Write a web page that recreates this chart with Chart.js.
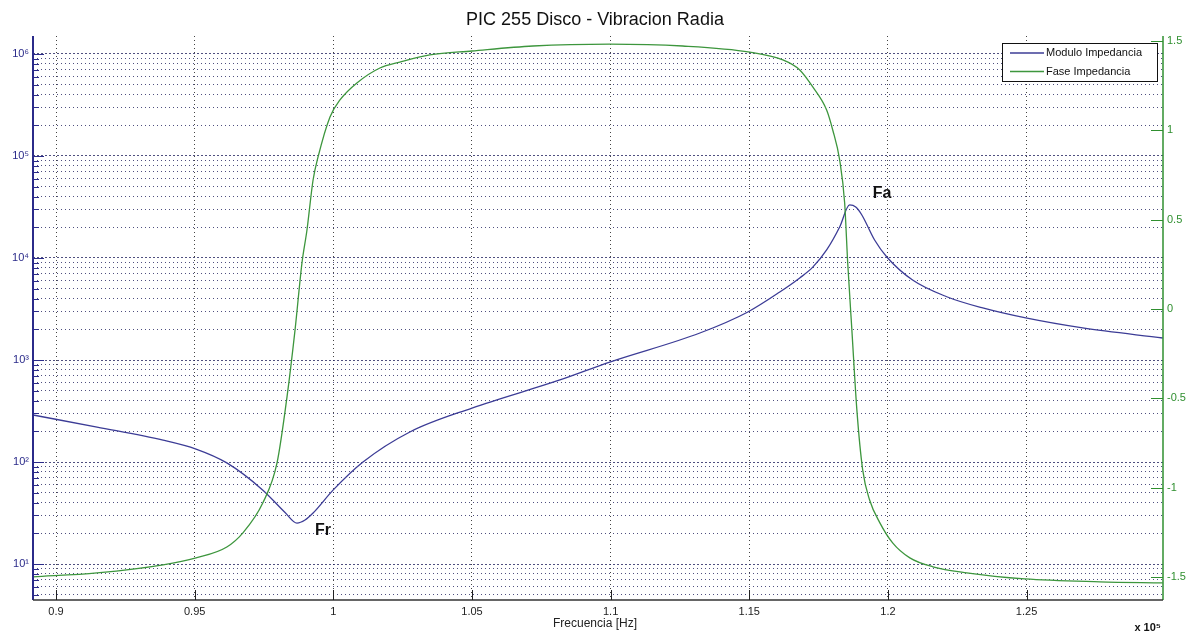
<!DOCTYPE html>
<html>
<head>
<meta charset="utf-8">
<script src="https://cdn.jsdelivr.net/npm/chart.js@4.4.1/dist/chart.umd.min.js"></script>
<style>
  html, body { margin: 0; background: #fff; }
  canvas { display: block; }
</style>
</head>
<body>
<canvas id="chart" width="1190" height="636"></canvas>
<script>
// frecuencia en unidades de 10^5 Hz
const freqModulo = [0.8917, 0.9148, 0.9386, 0.9505, 0.9616, 0.9746, 0.9826, 0.9869, 0.9898, 0.9927,
  0.9999, 1.0107, 1.0276, 1.05, 1.0817, 1.0997, 1.1322, 1.1495, 1.1610, 1.1682, 1.1729, 1.1779,
  1.1826, 1.1862, 1.1884, 1.1906, 1.1952, 1.1996, 1.2089, 1.2212, 1.2342, 1.2497, 1.2702, 1.2991];
const modulo = [289, 220, 164, 134, 98, 53, 32, 25.2, 27, 31.6,
  53, 100, 197, 338, 637, 955, 1840, 2958, 4640, 6370, 8130, 12000,
  20140, 33100, 31600, 26400, 15000, 10230, 6080, 4170, 3235, 2582, 2061, 1643];

const freqFase = [0.8917, 0.9148, 0.9386, 0.9505, 0.9616, 0.9674, 0.9746, 0.9797, 0.9833, 0.9862,
  0.9887, 0.9905, 0.9927, 0.9945, 0.9988, 1.0024, 1.0085, 1.0168, 1.0240, 1.0348, 1.05, 1.0720,
  1.0997, 1.1260, 1.1502, 1.1621, 1.1682, 1.1729, 1.1779, 1.1801, 1.1826, 1.1844, 1.1855, 1.1870,
  1.1888, 1.1909, 1.1934, 1.1971, 1.2017, 1.2079, 1.2162, 1.2284, 1.2493, 1.2764, 1.2991];
const fase = [-1.50, -1.477, -1.432, -1.393, -1.332, -1.253, -1.085, -0.862, -0.492, -0.117,
  0.258, 0.442, 0.722, 0.851, 1.075, 1.170, 1.265, 1.349, 1.382, 1.422, 1.444, 1.472,
  1.483, 1.472, 1.438, 1.394, 1.338, 1.243, 1.114, 1.002, 0.834, 0.593, 0.258, -0.117,
  -0.565, -0.901, -1.069, -1.197, -1.309, -1.393, -1.443, -1.477, -1.511, -1.527, -1.533];

const xTicks = [0.9, 0.95, 1, 1.05, 1.1, 1.15, 1.2, 1.25];
const faseTicks = [-1.5, -1, -0.5, 0, 0.5, 1, 1.5];
const exponentes = [0, 1, 2, 3, 4, 5, 6];

const marcas = [
  { text: 'Fr', x: 0.9963, y: 21.5 },
  { text: 'Fa', x: 1.1979, y: 43000 }
];

const FONT = "'Liberation Sans', Arial, 'DejaVu Sans', sans-serif";
const SUP = '⁰¹²³⁴⁵⁶⁷⁸⁹';
const AZUL = '#2b2b8a';
const VERDE = '#2f8f2f';
const LINEA_AZUL = '#3c3c96';
const LINEA_VERDE = '#3d963d';

const isPow10 = v => {
  const e = Math.log10(v);
  return Math.abs(e - Math.round(e)) < 1e-9;
};

const decor = {
  id: 'decor',
  afterDraw(chart) {
    const { ctx, chartArea: a, scales } = chart;
    ctx.save();

    // ejes
    ctx.lineWidth = 2;
    ctx.strokeStyle = AZUL;
    ctx.beginPath(); ctx.moveTo(a.left, a.top); ctx.lineTo(a.left, a.bottom); ctx.stroke();
    ctx.strokeStyle = VERDE;
    ctx.lineWidth = 1.5;
    ctx.beginPath(); ctx.moveTo(a.right, a.top); ctx.lineTo(a.right, a.bottom); ctx.stroke();
    ctx.strokeStyle = '#333';
    ctx.lineWidth = 1.5;
    ctx.beginPath(); ctx.moveTo(a.left, a.bottom); ctx.lineTo(a.right, a.bottom); ctx.stroke();

    // marcas hacia adentro
    ctx.lineWidth = 1;
    ctx.strokeStyle = '#222';
    scales.x.ticks.forEach(t => {
      const px = Math.round(scales.x.getPixelForValue(t.value)) + 0.5;
      ctx.beginPath(); ctx.moveTo(px, a.bottom); ctx.lineTo(px, a.bottom - 10); ctx.stroke();
    });
    ctx.strokeStyle = AZUL;
    scales.y.ticks.forEach(t => {
      const py = Math.round(scales.y.getPixelForValue(t.value)) + 0.5;
      const len = isPow10(t.value) ? 11 : 6;
      ctx.beginPath(); ctx.moveTo(a.left, py); ctx.lineTo(a.left + len, py); ctx.stroke();
    });
    ctx.strokeStyle = VERDE;
    scales.y2.ticks.forEach(t => {
      const py = Math.round(scales.y2.getPixelForValue(t.value)) + 0.5;
      ctx.beginPath(); ctx.moveTo(a.right, py); ctx.lineTo(a.right - 12, py); ctx.stroke();
    });

    // textos
    ctx.fillStyle = '#111';
    ctx.textAlign = 'center';
    ctx.textBaseline = 'middle';
    ctx.font = `18px ${FONT}`;
    ctx.fillText('PIC 255 Disco - Vibracion Radia', (a.left + a.right) / 2 - 3, 20);

    ctx.font = `12px ${FONT}`;
    ctx.fillStyle = '#222';
    ctx.fillText('Frecuencia [Hz]', (a.left + a.right) / 2 - 3, 624);

    ctx.font = `bold 11px ${FONT}`;
    ctx.textAlign = 'right';
    ctx.fillStyle = '#111';
    ctx.fillText('x 10' + SUP[5], a.right - 2, 628);

    ctx.font = `bold 16px ${FONT}`;
    ctx.textAlign = 'center';
    marcas.forEach(m => {
      ctx.fillText(m.text, scales.x.getPixelForValue(m.x), scales.y.getPixelForValue(m.y));
    });

    // leyenda
    const lw = 155, lh = 38;
    const lx = a.right - 6 - lw, ly = a.top + 7;
    ctx.fillStyle = '#fff';
    ctx.fillRect(lx, ly, lw, lh);
    ctx.strokeStyle = '#111';
    ctx.lineWidth = 1;
    ctx.strokeRect(lx + 0.5, ly + 0.5, lw, lh);
    ctx.font = `11px ${FONT}`;
    ctx.textAlign = 'left';
    chart.data.datasets.forEach((ds, i) => {
      const yy = ly + 10 + i * 18.5;
      ctx.strokeStyle = ds.borderColor;
      ctx.lineWidth = 1.3;
      ctx.beginPath(); ctx.moveTo(lx + 8, yy); ctx.lineTo(lx + 42, yy); ctx.stroke();
      ctx.fillStyle = '#111';
      ctx.fillText(ds.label, lx + 44, yy);
    });

    ctx.restore();
  }
};

new Chart(document.getElementById('chart'), {
  type: 'line',
  data: {
    datasets: [
      {
        label: 'Modulo Impedancia',
        data: freqModulo.map((f, i) => ({ x: f, y: modulo[i] })),
        yAxisID: 'y',
        borderColor: LINEA_AZUL,
        borderWidth: 1.3,
        pointRadius: 0,
        cubicInterpolationMode: 'monotone',
        order: 1
      },
      {
        label: 'Fase Impedancia',
        data: freqFase.map((f, i) => ({ x: f, y: fase[i] })),
        yAxisID: 'y2',
        borderColor: LINEA_VERDE,
        borderWidth: 1.3,
        pointRadius: 0,
        cubicInterpolationMode: 'monotone',
        order: 0
      }
    ]
  },
  options: {
    responsive: false,
    animation: false,
    layout: { padding: { top: 36, left: 0, right: 0, bottom: 0 } },
    plugins: { legend: { display: false }, title: { display: false }, tooltip: { enabled: false } },
    scales: {
      x: {
        type: 'linear',
        min: 0.8917,
        max: 1.2992,
        afterBuildTicks: s => { s.ticks = xTicks.map(v => ({ value: v })); },
        afterFit: s => { s.height = 36; },
        ticks: {
          autoSkip: false, maxRotation: 0, padding: 5,
          color: '#222', font: { family: FONT, size: 11 },
          callback: v => String(Number(v.toFixed(2)))
        },
        grid: { color: '#444', lineWidth: 1, drawTicks: false },
        border: { display: false, dash: [1, 3] }
      },
      y: {
        type: 'logarithmic',
        position: 'left',
        min: 4.44,
        max: 1.5e6,
        afterBuildTicks: s => {
          const list = [];
          exponentes.forEach(e => {
            for (let k = 1; k <= 9; k++) {
              const v = k * Math.pow(10, e);
              if (v >= s.min && v <= s.max) list.push({ value: v });
            }
          });
          s.ticks = list;
        },
        afterFit: s => { s.width = 33; },
        ticks: {
          autoSkip: false, padding: 4,
          color: AZUL, font: { family: FONT, size: 11 },
          callback: v => isPow10(v) ? '10' + SUP[Math.round(Math.log10(v))] : ''
        },
        grid: { color: 'rgba(35,35,95,0.8)', lineWidth: 1, drawTicks: false },
        border: {
          display: false,
          dash: c => (c.tick && isPow10(c.tick.value)) ? [2, 2] : [1, 3]
        }
      },
      y2: {
        type: 'linear',
        position: 'right',
        min: -1.629,
        max: 1.528,
        afterBuildTicks: s => { s.ticks = faseTicks.map(v => ({ value: v })); },
        afterFit: s => { s.width = 27; },
        ticks: {
          autoSkip: false, padding: 4,
          color: VERDE, font: { family: FONT, size: 11 },
          callback: v => String(v)
        },
        grid: { display: false, drawOnChartArea: false, drawTicks: false },
        border: { display: false }
      }
    }
  },
  plugins: [decor]
});
</script>
</body>
</html>
